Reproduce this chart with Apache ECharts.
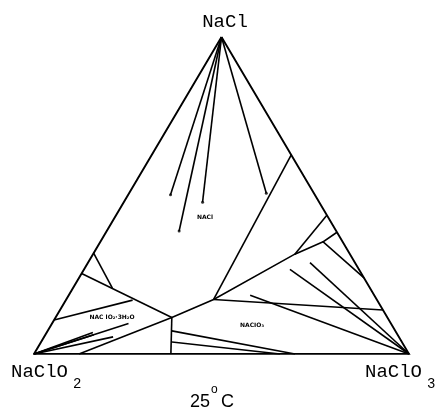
<!DOCTYPE html>
<html>
<head>
<meta charset="utf-8">
<script src="https://cdn.jsdelivr.net/npm/echarts@6/dist/echarts.min.js"></script>
<style>
  html, body { margin: 0; padding: 0; background: #fff; }
  #main { width: 437px; height: 410px; }
</style>
</head>
<body>
<div id="main"></div>
<script>
// every composition is [NaCl %, NaClO3 %], NaClO2 is the rest
var vertices = [[100, 0], [0, 0], [0, 100]];
var naclTieEnds = [[50.2, 11.3], [38.8, 19.3], [47.9, 21.0], [50.7, 36.6]];
var chlorateTieEnds = [[26.7, 54.9], [28.8, 59.2], [18.5, 48.4]];
var chloriteTieEnds = [[9.6, 20.4], [6.8, 12.3], [6.1, 12.9], [5.4, 18.4]];
var boundaries = [
  [[62.8, 37.2], [17.2, 39.3]],
  [[11.5, 31.0], [17.2, 39.3], [31.5, 53.8], [35.4, 59.4]],
  [[43.8, 56.2], [31.5, 53.8]],
  [[38.4, 61.6], [35.4, 59.4], [24.0, 76.0]],
  [[17.2, 39.3], [13.9, 86.1]],
  [[11.5, 31.0], [0, 36.5]],
  [[7.3, 33.1], [0, 69.6]],
  [[3.8, 34.9], [0, 65.6]],
  [[31.8, 0], [20.8, 10.5]],
  [[25.4, 0], [11.5, 31.0]],
  [[10.7, 0], [17.0, 17.8]],
  [[0, 12.0], [11.5, 31.0]]
];
var cornerNames = ['NaCl', 'NaClO', 'NaClO'];
var cornerSubs = ['', '2', '3'];
var phaseNames = ['NACl', 'NACIO₃', 'NAC lO₂·3H₂O'];
var temperature = ['25', 'o', 'C'];

// ternary -> cartesian (x along base, y = NaCl height)
function tern(p) {
  return [p[1] + p[0] / 2, p[0]];
}

var segs = [];
segs.push([vertices[0], vertices[1], vertices[2], vertices[0]]);
boundaries.forEach(function (b) { segs.push(b); });
naclTieEnds.forEach(function (e) { segs.push([vertices[0], e]); });
chlorateTieEnds.forEach(function (e) { segs.push([e, vertices[2]]); });
chloriteTieEnds.forEach(function (e) { segs.push([vertices[1], e]); });

var mono = '"Liberation Mono", "DejaVu Sans Mono", monospace';
var small = { fontSize: 6, fontWeight: 'bold', fontFamily: '"DejaVu Sans", sans-serif', fill: '#000' };

var chart = echarts.init(document.getElementById('main'));
chart.setOption({
  animation: false,
  backgroundColor: '#fff',
  grid: { left: 34, right: 28, top: 37, bottom: 56 },
  xAxis: { type: 'value', min: 0, max: 100, show: false },
  yAxis: { type: 'value', min: 0, max: 100, show: false },
  series: [
    {
      type: 'lines',
      coordinateSystem: 'cartesian2d',
      polyline: true,
      silent: true,
      lineStyle: { color: '#000', width: 1.6, opacity: 1 },
      data: segs.map(function (s, i) {
        return { coords: s.map(tern), lineStyle: i === 0 ? { width: 1.9 } : {} };
      })
    },
    {
      type: 'scatter',
      silent: true,
      symbolSize: 3,
      itemStyle: { color: '#000' },
      data: naclTieEnds.map(tern)
    }
  ],
  graphic: [
    { type: 'text', x: 225, y: 22, style: { text: cornerNames[0], font: '19px ' + mono, fill: '#000', textAlign: 'center', textVerticalAlign: 'middle' } },
    { type: 'text', x: 11, y: 372, style: { text: cornerNames[1], font: '19px ' + mono, fill: '#000', textAlign: 'left', textVerticalAlign: 'middle' } },
    { type: 'text', x: 73, y: 384, style: { text: cornerSubs[1], font: '14px ' + mono, fill: '#000', textAlign: 'left', textVerticalAlign: 'middle' } },
    { type: 'text', x: 365, y: 372, style: { text: cornerNames[2], font: '19px ' + mono, fill: '#000', textAlign: 'left', textVerticalAlign: 'middle' } },
    { type: 'text', x: 427, y: 384, style: { text: cornerSubs[2], font: '14px ' + mono, fill: '#000', textAlign: 'left', textVerticalAlign: 'middle' } },
    { type: 'text', x: 190, y: 402, style: { text: temperature[0], font: '18px "Liberation Sans", sans-serif', fill: '#000', textAlign: 'left', textVerticalAlign: 'middle' } },
    { type: 'text', x: 211, y: 390, style: { text: temperature[1], font: '12px "Liberation Sans", sans-serif', fill: '#000', textAlign: 'left', textVerticalAlign: 'middle' } },
    { type: 'text', x: 221, y: 402, style: { text: temperature[2], font: '18px "Liberation Sans", sans-serif', fill: '#000', textAlign: 'left', textVerticalAlign: 'middle' } },
    { type: 'text', x: 205, y: 217, style: Object.assign({ text: phaseNames[0], textAlign: 'center', textVerticalAlign: 'middle' }, small) },
    { type: 'text', x: 252, y: 325, style: Object.assign({ text: phaseNames[1], textAlign: 'center', textVerticalAlign: 'middle' }, small) },
    { type: 'text', x: 112, y: 317, style: Object.assign({ text: phaseNames[2], textAlign: 'center', textVerticalAlign: 'middle' }, small) }
  ]
});
</script>
</body>
</html>
